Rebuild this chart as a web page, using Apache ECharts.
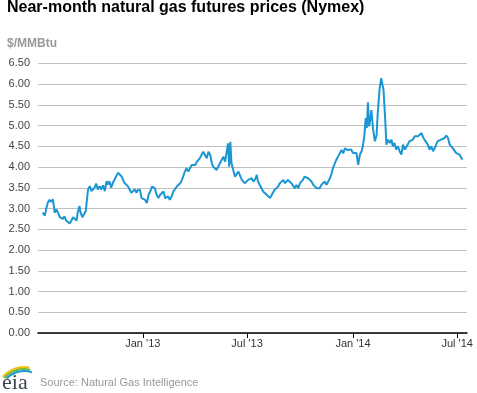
<!DOCTYPE html>
<html>
<head>
<meta charset="utf-8">
<script src="https://cdn.jsdelivr.net/npm/echarts@6/dist/echarts.min.js"></script>
<style>
html,body{margin:0;padding:0;background:#fff;}
#chart{width:477px;height:393px;}
</style>
</head>
<body>
<div id="chart"></div>
<script>
// Days since 2013-01-01 for each reading
var dayOffsets = [
 -174,-170,-168,-165,-162,-159,-156,-153,-150,-147,-144,-141,-139,-136,-133,-130,-127,-124,-121,-118,
 -115,-113,-110,-108,-105,-102,-99,-97,-95,-92,-89,-87,-84,-81,-78,-75,-72,-69,-66,-63,
 -61,-58,-55,-52,-49,-46,-43,-40,-37,-35,-32,-29,-26,-23,-20,-17,-14,-11,-9,-6,
 -5,-2,1,4,7,10,13,16,18,21,24,27,30,33,36,39,42,44,47,50,
 53,56,59,62,65,68,70,73,76,79,82,85,88,91,94,96,99,102,105,108,
 111,114,117,120,122,125,128,131,134,137,140,143,146,148,150,152,154,157,160,163,
 166,169,172,174,
 177,180,183,186,189,192,195,198,200,203,206,209,212,215,218,221,224,226,229,232,
 235,238,241,244,247,250,252,255,258,261,264,267,270,273,276,278,281,284,287,290,
 293,296,299,302,304,307,310,313,316,319,322,325,328,330,333,336,339,342,345,348,
 351,354,356,
 359,362,365,368,371,374,377,380,382,385,387,389,391,393,395,397,400,403,406,408,
 411,414,416,418,421,423,426,429,432,434,437,440,443,446,449,452,455,458,460,463,
 466,469,472,475,478,481,484,486,489,492,495,498,501,504,507,510,512,515,518,521,
 524,527,530,533,536,538,541,544,547,550,553,555
];
// Near-month price, $/MMBtu
var prices = [
 2.90,2.83,2.98,3.14,3.21,3.16,3.22,2.90,2.98,2.94,2.79,2.83,2.75,2.81,2.71,2.75,2.64,2.71,2.79,2.75,
 2.71,2.90,3.06,2.90,2.79,2.87,2.94,3.22,3.46,3.54,3.42,3.46,3.50,3.60,3.46,3.54,3.46,3.56,3.42,3.66,
 3.58,3.66,3.50,3.62,3.70,3.78,3.86,3.90,3.78,3.74,3.62,3.66,3.54,3.46,3.38,3.42,3.46,3.38,3.44,3.42,
 3.45,3.25,3.29,3.21,3.13,3.33,3.41,3.53,3.57,3.49,3.33,3.25,3.33,3.29,3.41,3.25,3.21,3.29,3.21,3.29,
 3.41,3.45,3.53,3.49,3.61,3.69,3.77,3.89,3.97,3.89,3.97,4.05,4.09,4.05,4.13,4.09,4.21,4.25,4.37,4.29,
 4.21,4.37,4.29,4.09,4.01,3.97,3.93,3.97,4.09,4.13,4.25,4.13,4.09,4.57,4.01,4.61,4.09,3.93,3.77,3.77,
 3.89,3.93,3.69,3.65,
 3.61,3.65,3.69,3.65,3.73,3.65,3.70,3.81,3.65,3.69,3.49,3.41,3.41,3.33,3.29,3.25,3.33,3.37,3.45,3.49,
 3.53,3.61,3.65,3.69,3.61,3.57,3.69,3.73,3.61,3.57,3.49,3.57,3.49,3.61,3.65,3.69,3.77,3.81,3.73,3.69,
 3.65,3.57,3.61,3.49,3.45,3.49,3.57,3.61,3.65,3.57,3.61,3.73,3.85,3.97,4.01,4.17,4.25,4.29,4.41,4.33,
 4.45,4.45,4.41,
 4.43,4.42,4.34,4.30,4.34,4.05,4.30,4.38,4.50,4.78,5.18,4.94,5.56,4.98,5.14,5.37,4.90,4.62,4.78,5.30,
 5.86,6.14,6.14,5.86,5.14,4.54,4.66,4.58,4.66,4.50,4.58,4.42,4.50,4.38,4.30,4.54,4.42,4.46,4.54,4.62,
 4.58,4.66,4.74,4.70,4.74,4.70,4.82,4.74,4.66,4.70,4.54,4.42,4.50,4.38,4.46,4.50,4.62,4.62,4.66,4.66,
 4.70,4.76,4.70,4.54,4.50,4.46,4.42,4.34,4.38,4.30,4.22,4.18
];
// x-axis ticks (days since 2013-01-01) and their labels
var tickDays = [0, 181, 365, 546];
var tickLabels = ["Jan '13", "Jul '13", "Jan '14", "Jul '14"];
var axisRangeDays = [-182, 563];

var seriesData = dayOffsets.map(function (d, i) { return [d, prices[i]]; });

var chart = echarts.init(document.getElementById('chart'), null, {renderer: 'canvas'});
var FONT = '"Liberation Sans", Arial, sans-serif';

chart.setOption({
  animation: false,
  backgroundColor: '#ffffff',
  title: {
    text: 'Near-month natural gas futures prices (Nymex)',
    left: 7, top: 0, padding: 0,
    textStyle: {fontFamily: FONT, fontSize: 16, fontWeight: 'bold', color: '#000'}
  },
  grid: {left: 38, right: 10, top: 63.3, bottom: 60, containLabel: false},
  xAxis: {
    type: 'value',
    min: axisRangeDays[0],
    max: axisRangeDays[1],
    axisLine: {show: true, onZero: false, lineStyle: {color: '#000', width: 1.5}},
    axisTick: {show: true, length: 5, customValues: tickDays, lineStyle: {color: '#000', width: 1}},
    axisLabel: {
      customValues: tickDays,
      margin: 5,
      showMinLabel: true, showMaxLabel: true,
      fontFamily: FONT, fontSize: 11, color: '#333',
      formatter: function (v) {
        var i = tickDays.indexOf(v);
        return i >= 0 ? tickLabels[i] : '';
      }
    },
    splitLine: {show: false}
  },
  yAxis: {
    type: 'value',
    min: 0, max: 6.5, interval: 0.5,
    axisLine: {show: false},
    axisTick: {show: false},
    axisLabel: {
      margin: 8,
      fontFamily: FONT, fontSize: 11, color: '#444',
      formatter: function (v) { return v.toFixed(2); }
    },
    splitLine: {show: true, lineStyle: {color: '#c0c0c0', width: 1}}
  },
  series: [{
    type: 'line',
    data: seriesData,
    showSymbol: false,
    symbol: 'none',
    lineStyle: {color: '#1b96d3', width: 2},
    itemStyle: {color: '#1b96d3'},
    z: 3
  }],
  graphic: [
    {type: 'text', left: 7, top: 38, style: {text: '$/MMBtu', fontFamily: FONT, fontSize: 12, fontWeight: 'bold', fill: '#999'}},
    {type: 'arc', shape: {cx: 24, cy: 395, r: 28, startAngle: 3.85, endAngle: 4.9}, style: {stroke: '#f2c200', lineWidth: 2, fill: null}},
    {type: 'arc', shape: {cx: 24, cy: 395, r: 26, startAngle: 3.85, endAngle: 4.95}, style: {stroke: '#7ab541', lineWidth: 2, fill: null}},
    {type: 'arc', shape: {cx: 24, cy: 395, r: 24, startAngle: 3.9, endAngle: 5.05}, style: {stroke: '#1b96d3', lineWidth: 2, fill: null}},
    {type: 'text', left: 2, top: 372, style: {text: 'eia', fontFamily: '"Liberation Serif", "DejaVu Serif", serif', fontSize: 22, fill: '#3a4656'}},
    {type: 'text', left: 40, top: 377, style: {text: 'Source: Natural Gas Intelligence', fontFamily: FONT, fontSize: 11, fill: '#999'}}
  ]
});
</script>
</body>
</html>
